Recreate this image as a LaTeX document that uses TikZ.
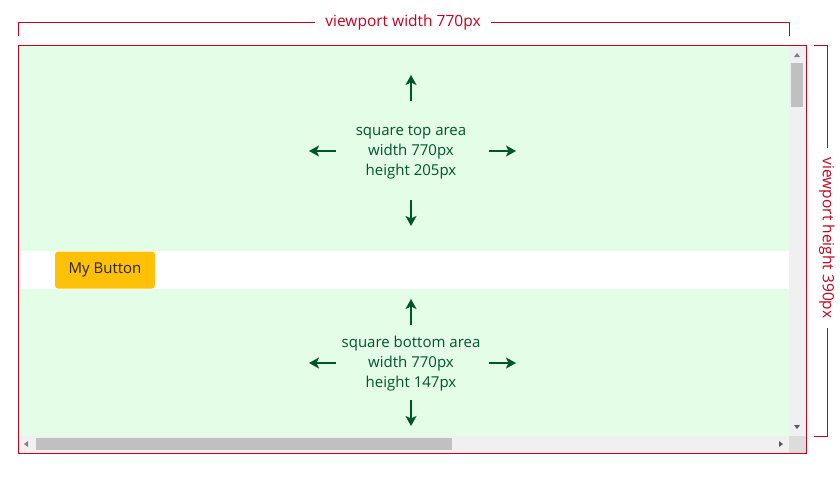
\documentclass[tikz,border=0pt]{standalone}
\usepackage{fontspec}
\setmainfont{Open Sans}
\usetikzlibrary{arrows.meta,positioning}
\definecolor{vpred}{RGB}{200,0,30}
\definecolor{areagreen}{RGB}{227,253,230}
\definecolor{arrowgreen}{RGB}{0,85,40}
\definecolor{barbg}{RGB}{240,240,240}
\definecolor{thumbgray}{RGB}{192,192,192}
\definecolor{cornergray}{RGB}{220,220,220}
\definecolor{btnamber}{RGB}{255,193,7}
\tikzset{
  dimlabel/.style={text=vpred, font=\fontsize{15.5}{18}\selectfont, inner sep=10pt},
  areatext/.style={text=arrowgreen, align=center, font=\fontsize{15}{20}\selectfont},
  growarrow/.style={draw=arrowgreen, line width=2pt, -{Stealth[length=10pt,width=11pt,inset=2.5pt]}},
  bracket/.style={draw=vpred, line width=0.9pt}
}
\begin{document}
\begin{tikzpicture}[x=1pt, y=-1pt]
    \useasboundingbox (0,0) rectangle (840,480);
    % page areas
    \fill[areagreen] (19,46) rectangle (789,251);
    \fill[areagreen] (19,289) rectangle (789,436);
    % scrollbars
    \fill[barbg] (789,46) rectangle (806,436);
    \fill[barbg] (19,436) rectangle (789,453);
    \fill[cornergray] (789,436) rectangle (806,453);
    \fill[thumbgray] (791,63) rectangle (803,107);
    \fill[thumbgray] (36,438) rectangle (452,450);
    \fill[gray] (794,57) -- (800,57) -- (797,53) -- cycle;
    \fill[gray!70!black] (794,425) -- (800,425) -- (797,429) -- cycle;
    \fill[gray] (28,441) -- (28,447) -- (24,444) -- cycle;
    \fill[gray!70!black] (779,441) -- (779,447) -- (783,444) -- cycle;
    % viewport frame
    \draw[vpred, line width=0.9pt] (18,45) rectangle (806,453);
    % width bracket
    \node (wlabel) [dimlabel] at (403,22) {viewport width 770px};
    \coordinate (wl) at (18,36);
    \coordinate (wr) at (789,36);
    \draw[bracket] (wl) |- (wlabel.west);
    \draw[bracket] (wr) |- (wlabel.east);
    % height bracket
    \node (hlabel) [dimlabel, rotate=-90] at (827,238) {viewport height 390px};
    \coordinate (ht) at (814,45);
    \coordinate (hb) at (814,436);
    \draw[bracket] (ht) -| (hlabel.west);
    \draw[bracket] (hb) -| (hlabel.east);
    % button
    \node (button) [fill=btnamber, rounded corners=3pt, minimum width=100pt, minimum height=37pt,
        text=black!85, font=\fontsize{15}{17}\selectfont] at (105,270) {My Button};
    % top area
    \node (toparea) [areatext] at (411,152) {square top area\\width 770px\\height 205px};
    \coordinate (tup0) at (411,101);   \coordinate (tup1) at (411,75);
    \coordinate (tdn0) at (411,200);   \coordinate (tdn1) at (411,226);
    \coordinate (tlf0) at (336,151);   \coordinate (tlf1) at (309,151);
    \coordinate (trt0) at (489,151);   \coordinate (trt1) at (516,151);
    \draw[growarrow] (tup0) -- (tup1);
    \draw[growarrow] (tdn0) -- (tdn1);
    \draw[growarrow] (tlf0) -- (tlf1);
    \draw[growarrow] (trt0) -- (trt1);
    % bottom area
    \node (botarea) [areatext] at (411,364) {square bottom area\\width 770px\\height 147px};
    \coordinate (bup0) at (411,325);   \coordinate (bup1) at (411,299);
    \coordinate (bdn0) at (411,400);   \coordinate (bdn1) at (411,426);
    \coordinate (blf0) at (336,363);   \coordinate (blf1) at (309,363);
    \coordinate (brt0) at (489,363);   \coordinate (brt1) at (516,363);
    \draw[growarrow] (bup0) -- (bup1);
    \draw[growarrow] (bdn0) -- (bdn1);
    \draw[growarrow] (blf0) -- (blf1);
    \draw[growarrow] (brt0) -- (brt1);
\end{tikzpicture}
\end{document}
